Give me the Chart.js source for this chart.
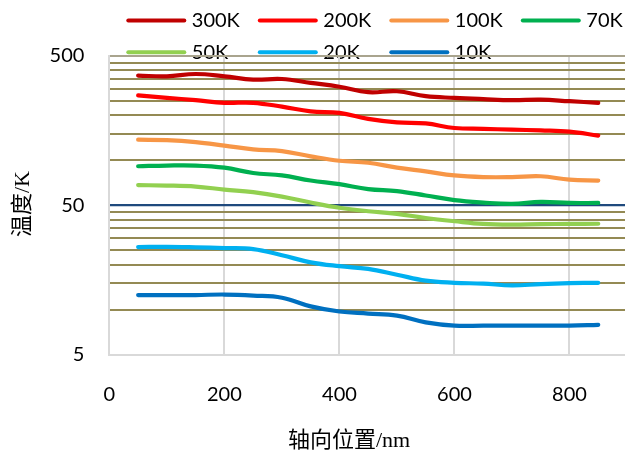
<!DOCTYPE html>
<html><head><meta charset="utf-8">
<script src="https://cdn.jsdelivr.net/npm/chart.js@4/dist/chart.umd.min.js"></script>
<style>
html,body{margin:0;padding:0;background:#fff;overflow:hidden;}
#wrap{width:627px;height:456px;position:relative;}
</style></head><body>
<div id="wrap"><canvas id="c"></canvas></div>
<script>
// ---- data ----
const positions = [50,100,150,200,250,300,350,400,450,500,550,600,650,700,750,800,850];
const seriesNames = ['300K','200K','100K','70K','50K','20K','10K'];
const t300K = [368,364,377,364,346,349,329,310,285,289,268,261,256,252,254,248,242];
const t200K = [271,261,252,242,242,228,212,207,189,179,176,164,162,160,158,155,146];
const t100K = [137,136,132,125,118,115,106,99,96,89,84,79,77,77,78,74,73];
const t70K  = [91,92,92,89,82,79,73,69,64,62,58,54,52,51,52.5,51.7,51.7];
const t50K  = [68,67.6,66.5,63.5,61,57,52,48,45.5,43.7,41,39,37.4,37,37.3,37.4,37.5];
const t20K  = [26.2,26.3,26.1,25.8,25.4,23.1,20.7,19.5,18.7,17.1,15.6,15.1,14.9,14.5,14.8,15.0,15.1];
const t10K  = [12.5,12.5,12.5,12.6,12.4,12.0,10.5,9.7,9.4,9.1,8.2,7.8,7.8,7.8,7.8,7.8,7.9];
const seriesValues = [t300K,t200K,t100K,t70K,t50K,t20K,t10K];
const xTickLabels = [0,200,400,600,800];
const yTickLabels = [5,50,500];
const yMinorGrid = [10,15,20,25,30,35,40,45,100,150,200,250,300,350,400,450];
const xTitle = '轴向位置/nm';
const yTitle = '温度/K';

// ---- styles ----
const colors = ['#C00000','#FF0000','#F79646','#00B050','#92D050','#00B0F0','#0070C0'];
const tickFont = {family:'Lato', size:20};
const titleFont = '22px "Liberation Serif", "Noto Sans CJK SC"';

const customPlugin = {
  id:'custom',
  beforeDraw(chart){
    const ctx = chart.ctx;
    ctx.save();
    ctx.fillStyle = '#fff';
    ctx.fillRect(0,0,chart.width,chart.height);
    chart.data.datasets.forEach((ds,i)=>{
      const col = i % 4, row = Math.floor(i/4);
      const x0 = 128.3 + col*131.5;
      const y = 20.5 + row*31.8;
      ctx.strokeStyle = ds.borderColor;
      ctx.lineWidth = 4;
      ctx.lineCap = 'round';
      ctx.beginPath(); ctx.moveTo(x0,y); ctx.lineTo(x0+56,y); ctx.stroke();
      ctx.fillStyle = '#000';
      ctx.font = '20px Lato';
      ctx.textBaseline = 'middle';
      ctx.textAlign = 'left';
      ctx.fillText(ds.label, x0+63.5, y);
    });
    ctx.restore();
  },
  afterDraw(chart){
    const ctx = chart.ctx;
    ctx.save();
    ctx.fillStyle = '#000';
    ctx.font = titleFont;
    ctx.textAlign = 'center';
    ctx.textBaseline = 'middle';
    ctx.fillText(xTitle, 349, 441);
    ctx.translate(23, 204);
    ctx.rotate(-Math.PI/2);
    ctx.fillText(yTitle, 0, 0);
    ctx.restore();
  }
};

new Chart(document.getElementById('c'), {
  type:'line',
  data:{
    datasets: seriesNames.map((n,i)=>({
      label:n,
      data: positions.map((x,j)=>({x:x, y:seriesValues[i][j]})),
      borderColor: colors[i],
      backgroundColor: colors[i],
      borderWidth:4.2,
      pointRadius:0,
      tension:0.4,
      fill:false,
      borderCapStyle:'round',
      borderJoinStyle:'round'
    }))
  },
  options:{
    responsive:true,
    maintainAspectRatio:false,
    animation:false,
    layout:{padding:{top:55.7,left:0,right:0,bottom:0}},
    plugins:{legend:{display:false}, tooltip:{enabled:false}},
    scales:{
      x:{
        type:'linear', min:0, max:900,
        afterBuildTicks: s => { s.ticks = xTickLabels.map(v=>({value:v})); },
        afterFit: s => { s.height = 101.5; },
        ticks:{padding:28.5, font:tickFont, color:'#000', maxRotation:0, autoSkip:false},
        grid:{color:'#D9D9D9', lineWidth:2, drawTicks:false},
        border:{color:'#D9D9D9', width:2}
      },
      y:{
        type:'logarithmic', min:5, max:500,
        afterBuildTicks: s => {
          s.ticks = yTickLabels.concat(yMinorGrid).sort((a,b)=>a-b).map(v=>({value:v}));
        },
        afterFit: s => { s.width = 109.4; },
        ticks:{
          padding:25, font:tickFont, color:'#000', autoSkip:false,
          callback: v => yTickLabels.includes(v) ? String(v) : ''
        },
        grid:{
          drawTicks:false,
          color: c => {
            const v = c.tick ? c.tick.value : 0;
            if (v === 50) return '#1F497D';
            if (v === 5) return 'rgba(0,0,0,0)';
            if (v === 500) return '#A9A48E';
            return '#948A54';
          },
          lineWidth: c => (c.tick && c.tick.value === 50) ? 2.2 : 2
        },
        border:{color:'#D9D9D9', width:2}
      }
    }
  },
  plugins:[customPlugin]
});
</script>
</body></html>
